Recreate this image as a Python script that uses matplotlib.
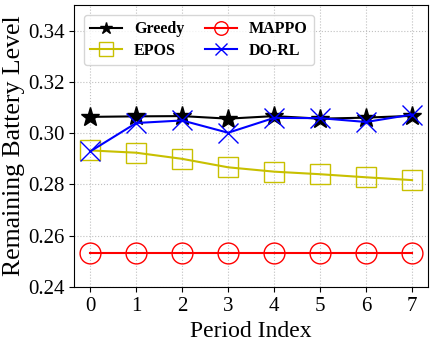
import numpy as np
import matplotlib.pyplot as plt

plt.rcParams['font.family'] = ['Liberation Serif', 'DejaVu Serif']

periods = [0, 1, 2, 3, 4, 5, 6, 7]
greedy = [0.3064, 0.3066, 0.3067, 0.3057, 0.3067, 0.3057, 0.3061, 0.3068]
epos = [0.2933, 0.2924, 0.2900, 0.2867, 0.2850, 0.2840, 0.2828, 0.2817]
mappo = [0.2533, 0.2533, 0.2533, 0.2533, 0.2533, 0.2533, 0.2533, 0.2533]
dorl = [0.2929, 0.3040, 0.3050, 0.3002, 0.3060, 0.3059, 0.3044, 0.3073]

fig, ax = plt.subplots(figsize=(4.36, 3.49), dpi=100)
ax.plot(periods, greedy, color='black', marker='*', markersize=14, label='Greedy')
ax.plot(periods, epos, color='#c8c000', marker='s', markersize=15, markerfacecolor='none', label='EPOS')
ax.plot(periods, mappo, color='red', marker='o', markersize=15, markerfacecolor='none', label='MAPPO')
ax.plot(periods, dorl, color='blue', marker='x', markersize=14, markeredgewidth=1, label='DO-RL')

ax.set_xlim(-0.35, 7.35)
ax.set_ylim(0.24, 0.35)
ax.set_xticks(periods)
ax.set_yticks([0.24, 0.26, 0.28, 0.30, 0.32, 0.34])
ax.set_yticklabels(['0.24', '0.26', '0.28', '0.30', '0.32', '0.34'])
ax.tick_params(labelsize=15)
ax.grid(True, linestyle=':', color='#c0c0c0')
ax.set_xlabel('Period Index', fontsize=17)
ax.set_ylabel('Remaining Battery Level', fontsize=18.5, labelpad=2)
ax.legend(ncol=2, loc='upper left', prop={'weight': 'bold', 'size': 11.5}, handlelength=2.0,
          handletextpad=0.75, columnspacing=1.3, markerscale=0.65, borderaxespad=0.6,
          labelspacing=0.35)

plt.subplots_adjust(left=0.17, right=0.982, top=0.985, bottom=0.178)
plt.savefig('out.png')
